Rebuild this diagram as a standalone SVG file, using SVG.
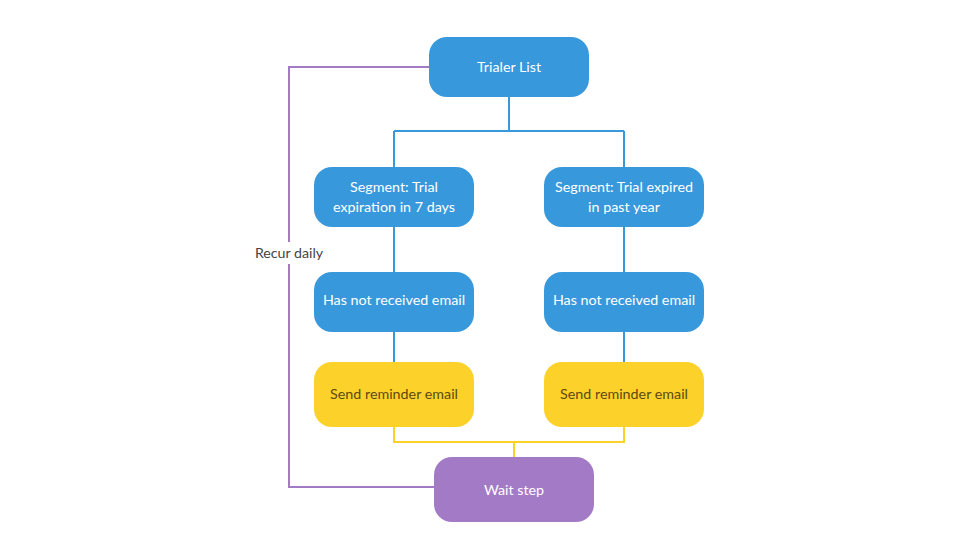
<svg xmlns="http://www.w3.org/2000/svg" width="960" height="560" viewBox="0 0 960 560">
<style>
.blue{fill:#3898dc}
.yellow{fill:#fcd22a}
.purple{fill:#a37ac6}
text{font-family:Lato,"Liberation Sans",sans-serif;font-size:14.3px;text-anchor:middle}
.w{fill:#ffffff}
.d{fill:#5b4a12}
.lbl{fill:#444444;font-size:14.2px}
.cb{fill:none;stroke:#3898dc;stroke-width:2}
.cy{fill:none;stroke:#fcd22a;stroke-width:2}
.cp{fill:none;stroke:#a37ac6;stroke-width:2}
</style>
<rect width="960" height="560" fill="#ffffff"/>
<g id="connectors">
<path class="cb" d="M509 97V131M394 131H624M394 131V167M624 131V167M394 227V272M624 227V272M394 332V362M624 332V362"/>
<path class="cy" d="M394 427V442H624V427M514 442V457"/>
<path class="cp" d="M429 67H289V487H434"/>
<rect x="250" y="242" width="78" height="22" fill="#ffffff"/>
<text class="lbl" x="289" y="258">Recur daily</text>
</g>
<g id="trialer">
<rect class="blue" x="429" y="37" width="160" height="60" rx="18"/>
<text class="w" x="509" y="72">Trialer List</text>
</g>
<g id="seg1">
<rect class="blue" x="314" y="167" width="160" height="60" rx="18"/>
<text class="w" x="394" y="192">Segment: Trial</text>
<text class="w" x="394" y="212">expiration in 7 days</text>
</g>
<g id="seg2">
<rect class="blue" x="544" y="167" width="160" height="60" rx="18"/>
<text class="w" x="624" y="192">Segment: Trial expired</text>
<text class="w" x="624" y="212">in past year</text>
</g>
<g id="has1">
<rect class="blue" x="314" y="272" width="160" height="60" rx="18"/>
<text class="w" x="394" y="305">Has not received email</text>
</g>
<g id="has2">
<rect class="blue" x="544" y="272" width="160" height="60" rx="18"/>
<text class="w" x="624" y="305">Has not received email</text>
</g>
<g id="send1">
<rect class="yellow" x="314" y="362" width="160" height="65" rx="18"/>
<text class="d" x="394" y="399">Send reminder email</text>
</g>
<g id="send2">
<rect class="yellow" x="544" y="362" width="160" height="65" rx="18"/>
<text class="d" x="624" y="399">Send reminder email</text>
</g>
<g id="wait">
<rect class="purple" x="434" y="457" width="160" height="65" rx="18"/>
<text class="w" x="514" y="495">Wait step</text>
</g>
</svg>
